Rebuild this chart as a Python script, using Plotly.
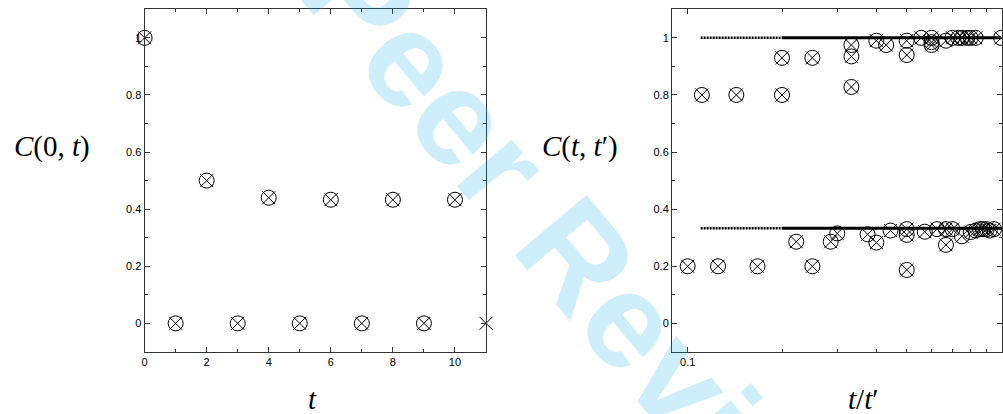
import plotly.graph_objects as go

# left panel: C(0,t)
t_left = [0, 1, 2, 3, 4, 5, 6, 7, 8, 9, 10, 11]
c_left = [1.0, 0.0, 0.5, 0.0, 0.44, 0.0, 0.433, 0.0, 0.433, 0.0, 0.433, 0.0]
t_left_circ = t_left[:11]
c_left_circ = c_left[:11]

# right panel: C(t,t') vs t/t'
ratio_hi = [0.111, 0.143, 0.2, 0.2, 0.25, 0.333, 0.333, 0.333, 0.4, 0.43, 0.5, 0.5,
            0.556, 0.6, 0.6, 0.6, 0.667, 0.7, 0.73, 0.75, 0.78, 0.8, 0.83, 1.0]
c_hi = [0.80, 0.80, 0.80, 0.93, 0.93, 0.828, 0.935, 0.975, 0.99, 0.975, 0.94, 0.99,
        1.0, 0.985, 1.0, 0.975, 0.99, 1.0, 1.0, 1.0, 1.0, 1.0, 1.0, 1.0]
ratio_lo = [0.1, 0.125, 0.167, 0.222, 0.25, 0.286, 0.3, 0.375, 0.4, 0.444, 0.5, 0.5, 0.5,
            0.571, 0.625, 0.667, 0.667, 0.7, 0.75, 0.8, 0.83, 0.857, 0.875, 0.9, 0.92, 0.95]
c_lo = [0.2, 0.2, 0.2, 0.286, 0.2, 0.286, 0.315, 0.312, 0.283, 0.325, 0.33, 0.31, 0.187,
        0.321, 0.33, 0.33, 0.275, 0.33, 0.305, 0.32, 0.325, 0.33, 0.33, 0.33, 0.325, 0.33]

# asymptotic levels (dotted start, then solid)
lev_hi = 1.0
lev_lo = 0.333
lev_x_dot = [0.11, 0.2]
lev_x_solid = [0.2, 1.0]

fig = go.Figure()

circ = dict(symbol="circle-open", size=15, color="black", line=dict(width=1, color="black"))
cross = dict(symbol="x-thin-open", size=13, color="black", line=dict(width=1, color="black"))

fig.add_trace(go.Scatter(x=t_left_circ, y=c_left_circ, mode="markers", marker=circ,
                         cliponaxis=False, xaxis="x", yaxis="y"))
fig.add_trace(go.Scatter(x=t_left, y=c_left, mode="markers", marker=cross,
                         cliponaxis=False, xaxis="x", yaxis="y"))

for lev in [lev_hi, lev_lo]:
    fig.add_trace(go.Scatter(x=lev_x_dot, y=[lev, lev], mode="lines",
                             line=dict(color="black", width=2.5, dash="2px,1px"), xaxis="x2", yaxis="y2"))
    fig.add_trace(go.Scatter(x=lev_x_solid, y=[lev, lev], mode="lines",
                             line=dict(color="black", width=3), xaxis="x2", yaxis="y2"))

for xs, ys in [(ratio_hi, c_hi), (ratio_lo, c_lo)]:
    fig.add_trace(go.Scatter(x=xs, y=ys, mode="markers", marker=circ, cliponaxis=False,
                             xaxis="x2", yaxis="y2"))
    fig.add_trace(go.Scatter(x=xs, y=ys, mode="markers", marker=cross, cliponaxis=False,
                             xaxis="x2", yaxis="y2"))

tickfont = dict(family="Liberation Sans", size=11, color="black")
ax_common = dict(showline=True, linecolor="#333", linewidth=1, mirror="allticks",
                 ticks="inside", ticklen=5, tickcolor="#333", showgrid=False, zeroline=False,
                 tickfont=tickfont)

fig.update_layout(
    width=1003, height=414,
    margin=dict(l=0, r=0, t=0, b=0),
    paper_bgcolor="white", plot_bgcolor="white",
    showlegend=False,
    xaxis=dict(domain=[0.1416, 0.483], range=[0, 11], dtick=2,
               minor=dict(dtick=1, ticks="inside", ticklen=3, tickcolor="#333"), **ax_common),
    yaxis=dict(domain=[0.150, 0.9775], range=[-0.1, 1.1], dtick=0.2, anchor="x",
               minor=dict(dtick=0.1, ticks="inside", ticklen=3, tickcolor="#333"), **ax_common),
    xaxis2=dict(domain=[0.669, 0.999], type="log", range=[-1.05, 0.003], anchor="y2",
                tickvals=[0.1, 1], ticktext=["0.1", "1"],
                minor=dict(tickvals=[0.2, 0.3, 0.4, 0.5, 0.6, 0.7, 0.8, 0.9],
                           ticks="inside", ticklen=3, tickcolor="#333"), **ax_common),
    yaxis2=dict(domain=[0.150, 0.9775], range=[-0.1, 1.1], dtick=0.2, anchor="x2",
                minor=dict(dtick=0.1, ticks="inside", ticklen=3, tickcolor="#333"), **ax_common),
)

serif = dict(family="Liberation Serif", size=29, color="black")
labels = [
    ("<i>C</i>(0, <i>t</i>)", 49, 146),
    ("<i>C</i>(<i>t</i>, <i>t</i>′)", 579, 146),
    ("<i>t</i>", 310, 399),
    ("<i>t</i>/<i>t</i>′", 863, 399),
]
for txt, px, py in labels:
    fig.add_annotation(text=txt, x=px / 1003, y=1 - py / 414, xref="paper", yref="paper",
                       xanchor="center", yanchor="middle", showarrow=False, font=serif)

# watermark
fig.add_annotation(text="<b>For Peer Review</b>", x=505 / 1003, y=1 - 172 / 414,
                   xref="paper", yref="paper", xanchor="center", yanchor="middle",
                   showarrow=False, textangle=50,
                   font=dict(family="Liberation Sans", size=136, color="rgba(10,170,240,0.2)"))

fig.write_html("out.html", config={"displayModeBar": False},
               post_script="document.body.style.margin='0px';")
